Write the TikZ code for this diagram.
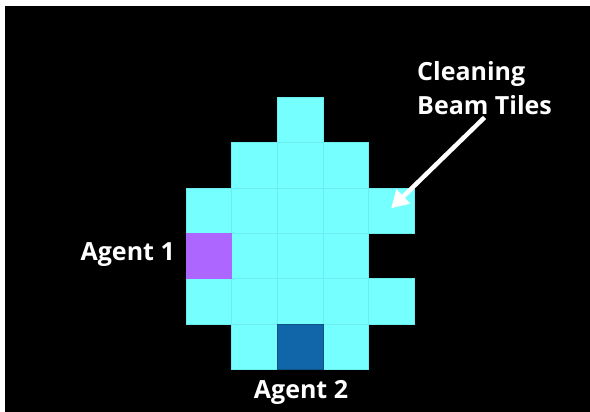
\documentclass[tikz,border=0pt]{standalone}
\usepackage{fontspec}
\setmainfont{Open Sans}
\usetikzlibrary{arrows.meta}
\definecolor{tilecyan}{RGB}{118,255,255}
\definecolor{tileedge}{RGB}{106,236,240}
\definecolor{agentpurple}{RGB}{173,102,255}
\definecolor{agentblue}{RGB}{17,102,170}
\begin{document}
\begin{tikzpicture}[x=1pt, y=-1pt,
  tile/.style={draw=tileedge, line width=0.5pt},
  lbl/.style={text=white, font=\bfseries\fontsize{25}{35}\selectfont, inner sep=0pt},
  beamarrow/.style={draw=white, line width=4.5pt, -{Triangle[length=17pt,width=19pt]}}]
\useasboundingbox (0,0) rectangle (590,412);
\fill[white] (0,0) rectangle (590,412);
\fill[black] (5,6) rectangle (590,412);
% tiles of the beam and the two agents
\begin{scope}[shift={(186,97)}, x=45.6pt, y=-45.4pt]
  \foreach \c/\r in {2/0, 1/1,2/1,3/1, 0/2,1/2,2/2,3/2,4/2, 1/3,2/3,3/3,
                     0/4,1/4,2/4,3/4,4/4, 1/5,3/5}
    \draw[tile, fill=tilecyan] (\c,\r) rectangle ++(1,1);
  \draw[tile, fill=agentpurple, draw=agentpurple] (0,3) rectangle ++(1,1);
  \draw[tile, fill=agentblue, draw=agentblue!80!black] (2,5) rectangle ++(1,1);
  \coordinate (tip) at (4.5,2.45);
\end{scope}
\node[lbl, anchor=base east] (agent1) at (175,260) {Agent 1};
\node[lbl, anchor=base] (agent2) at (301,398) {Agent 2};
\node[lbl, align=left, anchor=base west] (beam) at (417,115) {Cleaning\\Beam Tiles};
\draw[beamarrow] (beam.south) ++(0,2) -- (tip);
\end{tikzpicture}
\end{document}
